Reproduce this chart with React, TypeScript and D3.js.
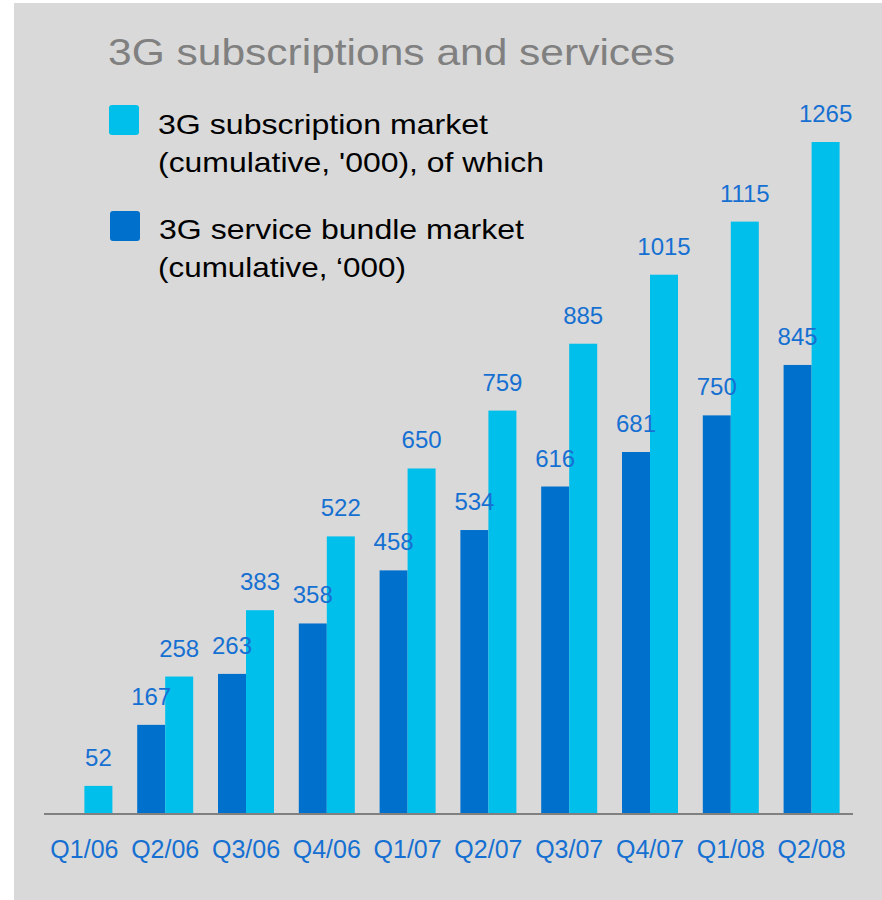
import React from "react";
import * as d3 from "d3";

const categories = ["Q1/06","Q2/06","Q3/06","Q4/06","Q1/07","Q2/07","Q3/07","Q4/07","Q1/08","Q2/08"];
const subscriptionMarket = [52, 258, 383, 522, 650, 759, 885, 1015, 1115, 1265];
const bundleMarket: (number | null)[] = [null, 167, 263, 358, 458, 534, 616, 681, 750, 845];
const titleText = "3G subscriptions and services";
const legendLines1 = ["3G subscription market", "(cumulative, '000), of which"];
const legendLines2 = ["3G service bundle market", "(cumulative, \u2018000)"];

const W = 882, H = 900;
const CYAN = "#00bfea";
const DARK = "#0070cd";
const LABEL = "#1670d2";
const FONT = "'Liberation Sans', Arial, Helvetica, sans-serif";

export default function App() {
  const x = d3.scaleBand<string>().domain(categories).range([44, 852]).padding(0);
  const maxV = d3.max(subscriptionMarket) as number;
  const y = d3.scaleLinear().domain([0, maxV]).range([813.5, 142]);
  const barW = 28;
  const cx = (c: string) => (x(c) as number) + x.bandwidth() / 2;

  return (
    <svg width={W} height={H} style={{ position: "fixed", top: 0, left: 0, display: "block" }} fontFamily={FONT}>
      <rect x={0} y={0} width={W} height={H} fill="#ffffff" />
      <rect x={14} y={3} width={W - 14} height={H - 3} fill="#d9d9d9" />
      <text x={108} y={65} fontSize={36} fill="#808080" textLength={567} lengthAdjust="spacingAndGlyphs">{titleText}</text>

      <rect x={109} y={105} width={30} height={30} rx={3} fill={CYAN} />
      <rect x={110} y={211} width={30} height={30} rx={3} fill={DARK} />
      <text x={158} y={134} fontSize={28} fill="#000" textLength={330} lengthAdjust="spacingAndGlyphs">{legendLines1[0]}</text>
      <text x={158} y={172} fontSize={28} fill="#000" textLength={386} lengthAdjust="spacingAndGlyphs">{legendLines1[1]}</text>
      <text x={159} y={239} fontSize={28} fill="#000" textLength={365} lengthAdjust="spacingAndGlyphs">{legendLines2[0]}</text>
      <text x={158} y={277} fontSize={28} fill="#000" textLength={248} lengthAdjust="spacingAndGlyphs">{legendLines2[1]}</text>

      {categories.map((c, i) => {
        const b = bundleMarket[i];
        const s = subscriptionMarket[i];
        const c0 = cx(c);
        return (
          <g key={c}>
            {b !== null && (
              <rect x={c0 - barW} y={y(b)} width={barW} height={y(0) - y(b)} fill={DARK} />
            )}
            <rect x={c0} y={y(s)} width={barW} height={y(0) - y(s)} fill={CYAN} />
          </g>
        );
      })}
      {categories.map((c, i) => {
        const b = bundleMarket[i];
        const s = subscriptionMarket[i];
        const c0 = cx(c);
        return (
          <g key={c + "l"} fontSize={24} fill={LABEL} textAnchor="middle">
            {b !== null && <text x={c0 - barW / 2} y={y(b) - 20}>{b}</text>}
            <text x={c0 + barW / 2} y={y(s) - 20}>{s}</text>
          </g>
        );
      })}
      <line x1={44} x2={853} y1={814} y2={814} stroke="#808080" strokeWidth={2} />
      {categories.map((c) => (
        <text key={c + "x"} x={cx(c)} y={858} fontSize={25} fill={LABEL} textAnchor="middle">{c}</text>
      ))}
    </svg>
  );
}
